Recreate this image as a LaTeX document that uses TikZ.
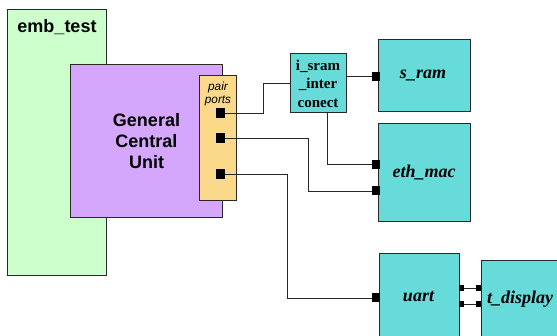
\documentclass[tikz,border=0pt]{standalone}
\usepackage{fontspec}
\setmainfont{Liberation Sans}
\newfontfamily\serifb{Liberation Serif}
\definecolor{embgreen}{RGB}{204,255,204}
\definecolor{gcupurple}{RGB}{212,166,252}
\definecolor{pairorange}{RGB}{250,217,138}
\definecolor{modcyan}{RGB}{103,219,218}
\definecolor{edge}{RGB}{40,40,40}
\tikzset{
  blk/.style={draw=edge, line width=1pt, inner sep=0pt, outer sep=0pt, anchor=north west},
  txt/.style={inner sep=0pt, outer sep=0pt, align=center},
  bigport/.style={fill=black, draw=none, minimum width=9pt, minimum height=10pt, inner sep=0pt, outer sep=0pt},
  modport/.style={fill=black, draw=none, minimum width=8pt, minimum height=9pt, inner sep=0pt, outer sep=0pt},
  smallport/.style={fill=black, draw=none, minimum width=5.5pt, minimum height=6pt, inner sep=0pt, outer sep=0pt},
  wire/.style={draw=black!85, line width=0.9pt},
}
\begin{document}
\begin{tikzpicture}[x=1pt,y=-1pt]
\useasboundingbox (0,0) rectangle (557,336);
\clip (0,0) rectangle (557,336);
% boxes
\node[blk, fill=embgreen, minimum width=99pt, minimum height=266pt] (emb) at (7,10) {};
\node[blk, fill=gcupurple, minimum width=152pt, minimum height=153pt] (gcu) at (70,65) {};
\node[blk, fill=pairorange, minimum width=37pt, minimum height=125pt] (pp) at (199,76) {};
\node[blk, fill=modcyan, minimum width=56pt, minimum height=59pt] (isram) at (290,54) {};
\node[blk, fill=modcyan, minimum width=92pt, minimum height=72pt] (sram) at (378,40) {};
\node[blk, fill=modcyan, minimum width=92pt, minimum height=98pt] (eth) at (378,124) {};
\node[blk, fill=modcyan, minimum width=80pt, minimum height=100pt] (uart) at (379,254) {};
\node[blk, fill=modcyan, minimum width=100pt, minimum height=100pt] (tdisp) at (481,261) {};
% texts
\node[txt, font=\fontsize{18}{20}\selectfont\bfseries] (embt) at (57,27) {emb\_test};
\node[txt, font=\fontsize{18}{21}\selectfont\bfseries] (gcut) at (146.5,141) {General\\Central\\Unit};
\node[txt, font=\fontsize{11.8}{12.8}\selectfont\itshape] (ppt) at (218,94) {pair\\ports};
\node[txt, font=\serifb\fontsize{15}{18.5}\selectfont\bfseries] (isramt) at (318,83.5) {i\_sram\\\_inter\\conect};
\node[txt, font=\serifb\fontsize{18}{20}\selectfont\bfseries\itshape] (sramt) at (423,76) {s\_ram};
\node[txt, font=\serifb\fontsize{18}{20}\selectfont\bfseries\itshape] (etht) at (424,173) {eth\_mac};
\node[txt, font=\serifb\fontsize{18}{20}\selectfont\bfseries\itshape] (uartt) at (418.5,297) {uart};
\node[txt, font=\serifb\fontsize{18}{20}\selectfont\bfseries\itshape, anchor=west] (tdispt) at (487,299) {t\_display};
% ports
\node[bigport] (p1) at (220.5,113) {};
\node[bigport] (p2) at (220.5,138.5) {};
\node[bigport] (p3) at (220.5,174) {};
\node[modport] (sp) at (376,76.5) {};
\node[modport] (e1) at (376,164.5) {};
\node[modport] (e2) at (376,191) {};
\node[modport] (u1) at (376,298) {};
\node[smallport] (uo1) at (461.5,288) {};
\node[smallport] (uo2) at (461.5,304) {};
\node[smallport] (ti1) at (478.5,288) {};
\node[smallport] (ti2) at (478.5,304) {};
% wires
\draw[wire] (p1.east) -- ++(38,0) |- (isram.west);
\draw[wire] (sp.west -| isram.east) -- (sp.west);
\draw[wire] ([xshift=9pt]isram.south) |- (e1.west);
\draw[wire] (p2.east) -- ++(83,0) |- (e2.west);
\draw[wire] (p3.east) -- ++(62,0) |- (u1.west);
\draw[wire] (uo1.east) -- (ti1.west);
\draw[wire] (uo2.east) -- (ti2.west);
\end{tikzpicture}
\end{document}
